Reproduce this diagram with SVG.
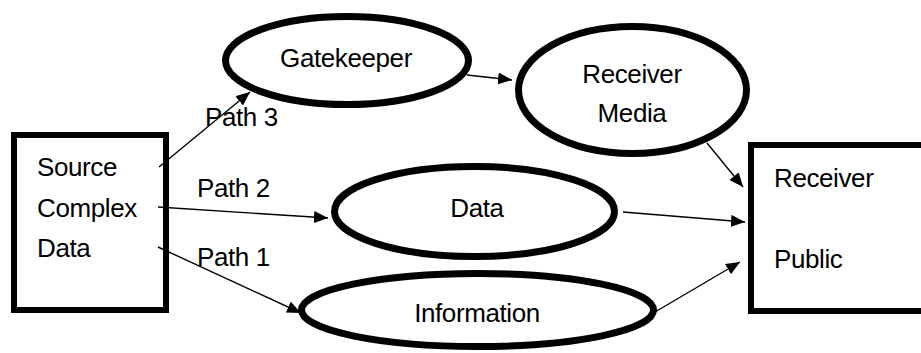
<svg xmlns="http://www.w3.org/2000/svg" width="921" height="353" viewBox="0 0 921 353">
<defs>
<marker id="ah" viewBox="0 0 14 12" refX="14" refY="6" markerWidth="14" markerHeight="12" markerUnits="userSpaceOnUse" orient="auto">
<path d="M0,0 L14,6 L0,12 z" fill="#000"/>
</marker>
<style>
.t{font-family:"Liberation Sans",Arial,sans-serif;font-size:26px;letter-spacing:-0.4px;fill:#000}
.m{text-anchor:middle}
.box{fill:#fff;stroke:#000;stroke-width:6}
.ell{fill:#fff;stroke:#000;stroke-width:7}
.c{stroke:#000;stroke-width:1.4;fill:none}
</style>
</defs>
<rect width="921" height="353" fill="#fff"/>
<g id="source">
<rect class="box" x="14" y="135" width="152" height="175"/>
<text class="t" x="37" y="176">Source</text>
<text class="t" x="37" y="217">Complex</text>
<text class="t" x="37" y="257">Data</text>
</g>
<g id="gatekeeper">
<ellipse class="ell" cx="347" cy="60.5" rx="121.5" ry="44"/>
<text class="t m" x="346" y="67">Gatekeeper</text>
</g>
<g id="receiver-media">
<ellipse class="ell" cx="632.5" cy="90" rx="114" ry="63.5"/>
<text class="t m" x="632" y="83">Receiver</text>
<text class="t m" x="632" y="122">Media</text>
</g>
<g id="data">
<ellipse class="ell" cx="474.5" cy="211.5" rx="140" ry="45"/>
<text class="t m" x="477" y="217">Data</text>
</g>
<g id="information">
<ellipse class="ell" cx="477.5" cy="310" rx="176" ry="36.5"/>
<text class="t m" x="477" y="322">Information</text>
</g>
<g id="receiver-public">
<rect class="box" x="751" y="145" width="200" height="166"/>
<text class="t" x="774" y="187">Receiver</text>
<text class="t" x="774" y="268">Public</text>
</g>
<g id="connectors">
<line class="c" x1="159" y1="167" x2="250" y2="92" marker-end="url(#ah)"/>
<line class="c" x1="158" y1="207" x2="328" y2="218" marker-end="url(#ah)"/>
<line class="c" x1="158" y1="247" x2="301" y2="313" marker-end="url(#ah)"/>
<line class="c" x1="467" y1="75" x2="512" y2="80" marker-end="url(#ah)"/>
<line class="c" x1="707" y1="143" x2="743" y2="187" marker-end="url(#ah)"/>
<line class="c" x1="623" y1="212" x2="745" y2="222" marker-end="url(#ah)"/>
<line class="c" x1="655" y1="312" x2="740" y2="262" marker-end="url(#ah)"/>
</g>
<g id="labels">
<text class="t" x="205" y="126">Path 3</text>
<text class="t" x="197" y="197">Path 2</text>
<text class="t" x="197" y="266">Path 1</text>
</g>
</svg>
